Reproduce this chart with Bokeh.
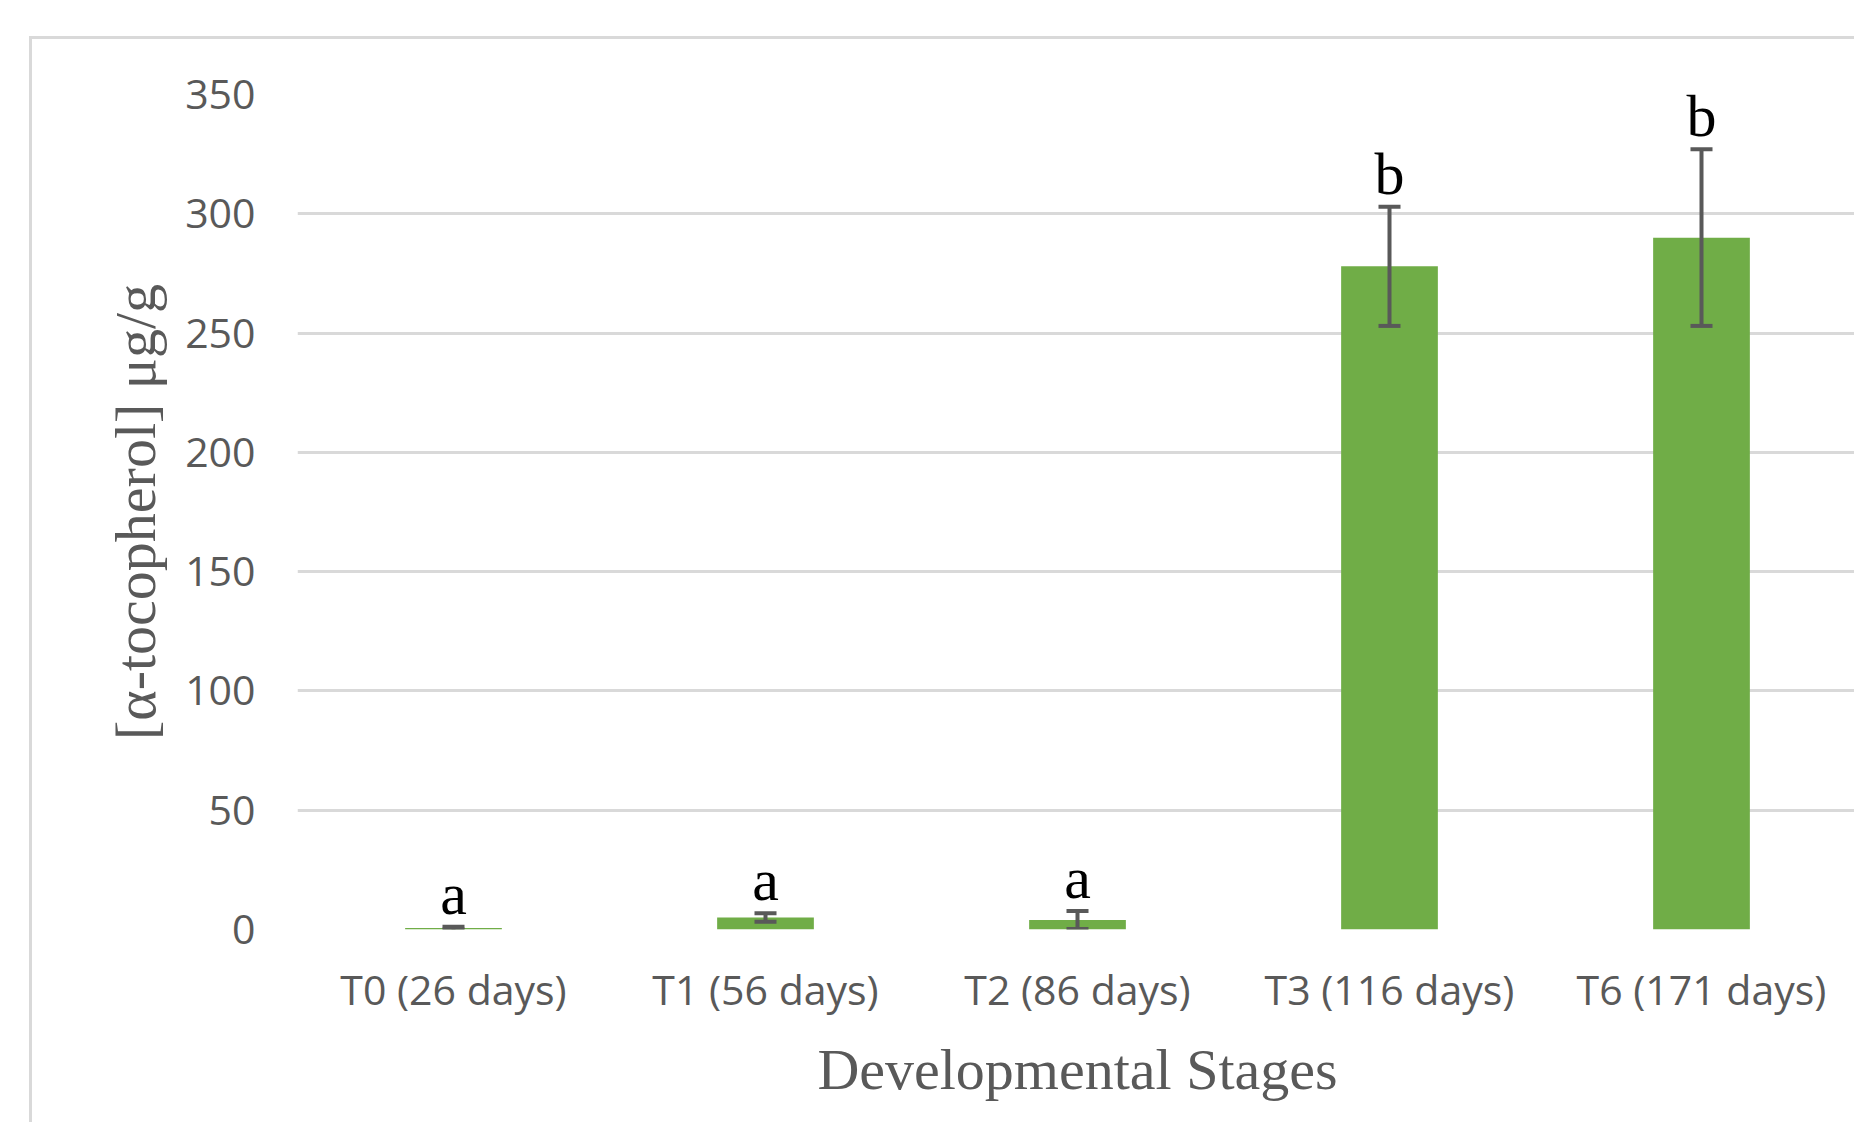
from bokeh.plotting import figure
from bokeh.models import ColumnDataSource, Whisker, TeeHead, FixedTicker, Range1d
from bokeh.core.properties import value
from bokeh.embed import file_html
from bokeh.resources import INLINE

# ---- data ----
stages = ["T0 (26 days)", "T1 (56 days)", "T2 (86 days)", "T3 (116 days)", "T6 (171 days)"]
means = [0.6, 5.0, 4.0, 278.0, 290.0]
errors = [0.6, 1.8, 3.8, 25.0, 37.0]
letters = ["a", "a", "a", "b", "b"]
y_ticks = [0, 50, 100, 150, 200, 250, 300, 350]

xs = [i + 0.5 for i in range(len(stages))]
src = ColumnDataSource(dict(
    x=xs, top=means,
    upper=[m + e for m, e in zip(means, errors)],
    lower=[m - e for m, e in zip(means, errors)],
    letter=letters,
))

GRID = "#d9d9d9"
GRAY = "#595959"

p = figure(width=1825, height=1086, output_backend="svg", toolbar_location=None,
           x_range=Range1d(0, len(stages)), y_range=Range1d(0, 350),
           min_border_left=265, min_border_right=0, min_border_top=55, min_border_bottom=196)
p.styles = {"margin-left": "29px", "margin-top": "36px",
            "border-left": f"3px solid {GRID}", "border-top": f"3px solid {GRID}"}
p.outline_line_color = None
p.background_fill_color = "white"
p.border_fill_color = "white"

p.vbar(x="x", top="top", width=0.31, bottom=0, source=src, fill_color="#70ad47", line_color=None)

w = Whisker(base="x", upper="upper", lower="lower", source=src, level="overlay",
            line_color=GRAY, line_width=4,
            upper_head=TeeHead(size=22, line_color=GRAY, line_width=4),
            lower_head=TeeHead(size=22, line_color=GRAY, line_width=4))
p.add_layout(w)

p.text(x="x", y="upper", text="letter", source=src, text_align="center",
       text_baseline="alphabetic", y_offset=-33, text_color="black",
       text_font=value("Liberation Serif"), text_font_size="60px")

# axes
p.xaxis.ticker = FixedTicker(ticks=xs)
p.xaxis.major_label_overrides = {x: s for x, s in zip(xs, stages)}
p.yaxis.ticker = FixedTicker(ticks=y_ticks)
for ax in (p.xaxis[0], p.yaxis[0]):
    ax.axis_line_color = None
    ax.major_tick_line_color = None
    ax.minor_tick_line_color = None
    ax.major_label_text_font = "Open Sans"
    ax.major_label_text_font_size = "41px"
    ax.major_label_text_color = GRAY
    ax.axis_label_text_font = "Liberation Serif"
    ax.axis_label_text_font_size = "58px"
    ax.axis_label_text_font_style = "normal"
    ax.axis_label_text_color = GRAY

p.xaxis.axis_label = "Developmental Stages"
p.yaxis.axis_label = "[α-tocopherol] μg/g"
p.xaxis.major_label_standoff = 25
p.xaxis.axis_label_standoff = 17
p.yaxis.major_label_standoff = 36
p.yaxis.axis_label_standoff = 14

p.xgrid.grid_line_color = None
p.ygrid.grid_line_color = GRID
p.ygrid.grid_line_width = 3

open("out.html", "w").write(file_html(p, INLINE))
